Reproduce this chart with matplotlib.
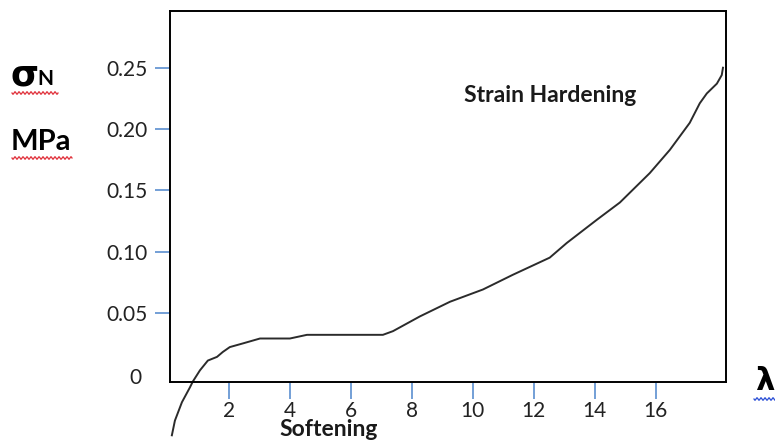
import matplotlib.pyplot as plt
import numpy as np

# stretch ratio vs nominal stress
lam = [0.13, 0.23, 0.46, 0.72, 0.82, 1.05, 1.31, 1.61, 1.80, 2.03, 2.46, 3.02,
       4.0, 4.56, 7.05, 7.38, 8.26, 9.25, 10.33, 11.31, 12.52, 13.08, 14.07,
       14.82, 15.80, 16.46, 17.11, 17.44, 17.67, 18.0, 18.16, 18.2]
sigma = [-0.050, -0.038, -0.023, -0.011, -0.006, 0.003, 0.011, 0.014, 0.018,
         0.022, 0.025, 0.029, 0.029, 0.032, 0.032, 0.035, 0.047, 0.059, 0.069,
         0.081, 0.095, 0.107, 0.126, 0.140, 0.164, 0.183, 0.205, 0.221, 0.229,
         0.237, 0.244, 0.250]
xticks = [2, 4, 6, 8, 10, 12, 14, 16]
yticks = [0.05, 0.10, 0.15, 0.20, 0.25]
ylabels = ['0.05', '0.10', '0.15', '0.20', '0.25']

plt.rcParams['font.family'] = ['Lato', 'DejaVu Sans']

fig = plt.figure(figsize=(7.75, 4.43), dpi=100)
ax = fig.add_axes([0.2194, 0.1377, 0.7174, 0.8375])

ax.plot(lam, sigma, '-', color='#2b2b2b', lw=1.4, clip_on=False)

ax.set_xlim(0.07, 18.3)
ax.set_ylim(-0.0065, 0.2963)
ax.set_xticks(xticks)
ax.set_xticklabels([str(t) for t in xticks])
ax.set_yticks(yticks)
ax.set_yticklabels(ylabels)
ax.tick_params(axis='y', length=11, width=1.2, color='#5b8fd0', pad=5,
               labelsize=15, labelcolor='#222222')
ax.tick_params(axis='x', length=12, width=1.2, color='#5b8fd0', pad=2,
               labelsize=15, labelcolor='#222222')
for s in ax.spines.values():
    s.set_linewidth(1.4)
    s.set_color('black')

# zero label with no tick
fig.text(135 / 775, 1 - 378 / 443, '0', ha='center', va='center',
         fontsize=15, color='#222222')

fig.text(550 / 775, 1 - 95 / 443, 'Strain Hardening', fontsize=16.5,
         fontweight='bold', ha='center', va='center', color='#1a1a1a')
fig.text(329 / 775, 1 - 430 / 443, 'Softening', fontsize=16.5, fontweight='bold',
         ha='center', va='center', color='#1a1a1a')

# axis titles
fig.text(10 / 775, 1 - 76 / 443, 'σ', fontsize=26, fontweight='bold',
         ha='left', va='center', family='DejaVu Sans')
fig.text(37 / 775, 1 - 79 / 443, 'N', fontsize=15, fontweight='bold',
         ha='left', va='center')
fig.text(11 / 775, 1 - 142 / 443, 'MPa', fontsize=21, fontweight='bold',
         ha='left', va='center')
fig.text(765 / 775, 1 - 381 / 443, 'λ', fontsize=22, fontweight='bold',
         ha='center', va='center', family='DejaVu Sans')

# spell-check squiggles under the titles
def squiggle(x0, x1, y, color):
    xs = np.linspace(x0, x1, 200)
    ys = y + 1.2 * np.sin((xs - x0) * 2 * np.pi / 4.0)
    fig.add_artist(plt.Line2D(xs / 775, 1 - ys / 443, color=color, lw=0.9))

squiggle(12, 58, 93, '#e0303a')
squiggle(12, 72, 158, '#e0303a')
squiggle(754, 776, 399, '#2b4fd6')

fig.savefig('out.png', dpi=100)
